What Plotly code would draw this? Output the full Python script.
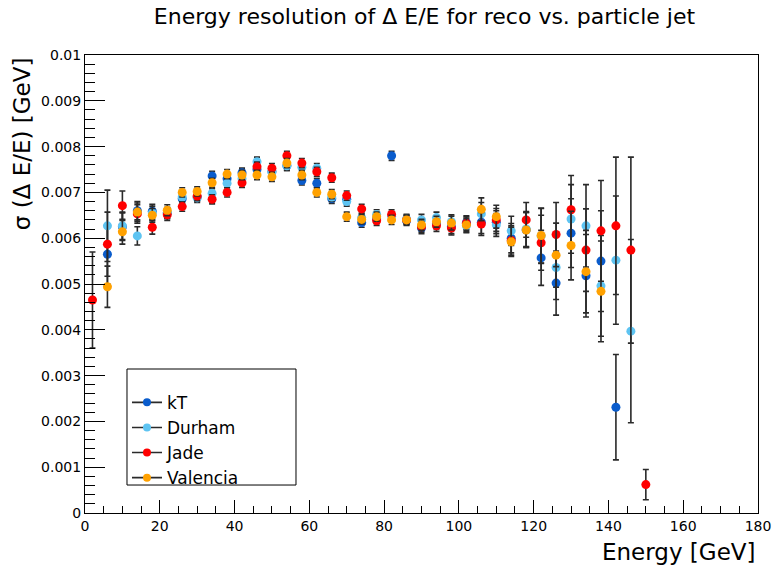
import plotly.graph_objects as go

# Bin centres (GeV) and sigma(dE/E) per jet algorithm, in units of 1e-3 GeV
energy_kt = [6, 10, 14, 18, 22, 26, 30, 34, 38, 42, 46, 50, 54, 58, 62, 66, 70, 74,
             78, 82, 86, 90, 94, 98, 102, 106, 110, 114, 118, 122, 126, 130, 134, 138, 142]
sigma_kt = [5.65, 6.25, 6.60, 6.59, 6.55, 6.86, 6.90, 7.36, 7.30, 7.43, 7.50, 7.45, 7.58,
            7.26, 7.20, 6.86, 6.85, 6.34, 6.42, 7.80, 6.38, 6.22, 6.32, 6.25, 6.34, 6.35,
            6.35, 6.00, 6.18, 5.57, 5.02, 6.11, 5.18, 5.50, 2.31]
err_kt = [0.65, 0.30, 0.20, 0.15, 0.12, 0.10, 0.10, 0.10, 0.10, 0.10, 0.10, 0.10, 0.10,
          0.10, 0.10, 0.10, 0.10, 0.10, 0.10, 0.10, 0.10, 0.12, 0.12, 0.15, 0.15, 0.25,
          0.25, 0.32, 0.38, 0.60, 0.70, 0.75, 0.90, 1.10, 1.15]

energy_durham = [6, 10, 14, 18, 22, 26, 30, 34, 38, 42, 46, 50, 54, 58, 62, 66, 70, 74,
                 78, 82, 86, 90, 94, 98, 102, 106, 110, 114, 118, 122, 126, 130, 134, 138,
                 142, 146]
sigma_durham = [6.27, 6.27, 6.05, 6.55, 6.55, 6.90, 6.88, 6.98, 7.20, 7.30, 7.67, 7.45,
                7.58, 7.55, 7.53, 6.90, 6.80, 6.45, 6.52, 6.48, 6.42, 6.40, 6.45, 6.36,
                6.27, 6.53, 6.29, 6.16, 6.20, 6.05, 5.36, 6.42, 6.27, 4.96, 5.52, 3.97]
err_durham = [0.78, 0.30, 0.20, 0.15, 0.12, 0.10, 0.10, 0.10, 0.10, 0.10, 0.10, 0.10, 0.10,
              0.10, 0.10, 0.10, 0.10, 0.10, 0.10, 0.10, 0.10, 0.12, 0.12, 0.15, 0.15, 0.25,
              0.25, 0.32, 0.38, 0.60, 0.70, 0.75, 0.90, 1.10, 1.40, 2.00]

energy_jade = [2, 6, 10, 14, 18, 22, 26, 30, 34, 38, 42, 46, 50, 54, 58, 62, 66, 70, 74,
               78, 82, 86, 90, 94, 98, 102, 106, 110, 114, 118, 122, 126, 130, 134, 138,
               142, 146, 150]
sigma_jade = [4.65, 5.87, 6.71, 6.53, 6.24, 6.51, 6.69, 6.92, 6.85, 7.00, 7.21, 7.56, 7.53,
              7.80, 7.64, 7.45, 7.32, 6.93, 6.64, 6.38, 6.52, 6.40, 6.25, 6.27, 6.22, 6.32,
              6.31, 6.40, 5.95, 6.40, 5.90, 6.08, 6.62, 5.74, 6.16, 6.27, 5.74, 0.62]
err_jade = [1.05, 0.70, 0.32, 0.20, 0.15, 0.12, 0.10, 0.10, 0.10, 0.10, 0.10, 0.10, 0.10,
            0.10, 0.10, 0.10, 0.10, 0.10, 0.10, 0.10, 0.10, 0.10, 0.12, 0.12, 0.15, 0.15,
            0.25, 0.25, 0.32, 0.38, 0.60, 0.70, 0.75, 0.90, 1.10, 1.50, 2.03, 0.33]

energy_valencia = [6, 10, 14, 18, 22, 26, 30, 34, 38, 42, 46, 50, 54, 58, 62, 66, 70, 74,
                   78, 82, 86, 90, 94, 98, 102, 106, 110, 114, 118, 122, 126, 130, 134, 138]
sigma_valencia = [4.94, 6.14, 6.57, 6.50, 6.61, 7.00, 7.02, 7.21, 7.40, 7.38, 7.38, 7.34,
                  7.64, 7.38, 7.00, 6.96, 6.47, 6.41, 6.47, 6.40, 6.40, 6.29, 6.36, 6.33,
                  6.29, 6.63, 6.47, 5.92, 6.18, 6.06, 5.63, 5.84, 5.27, 4.84]
err_valencia = [0.45, 0.27, 0.20, 0.15, 0.12, 0.10, 0.10, 0.10, 0.10, 0.10, 0.10, 0.10,
                0.10, 0.10, 0.10, 0.10, 0.10, 0.10, 0.10, 0.10, 0.10, 0.12, 0.12, 0.15,
                0.15, 0.25, 0.25, 0.32, 0.38, 0.60, 0.70, 0.75, 0.90, 1.10]

names = ["kT", "Durham", "Jade", "Valencia"]
colors = ["#0a5ccc", "#5ec4f2", "#ff0000", "#ffa100"]

x_tick_vals = [0, 20, 40, 60, 80, 100, 120, 140, 160, 180]
x_tick_text = ["0", "20", "40", "60", "80", "100", "120", "140", "160", "180"]
y_tick_vals = [0, 0.001, 0.002, 0.003, 0.004, 0.005, 0.006, 0.007, 0.008, 0.009, 0.01]
y_tick_text = ["0", "0.001", "0.002", "0.003", "0.004", "0.005", "0.006", "0.007",
               "0.008", "0.009", "0.01"]

FONT = "DejaVu Sans"
series = [
    (energy_kt, sigma_kt, err_kt),
    (energy_durham, sigma_durham, err_durham),
    (energy_jade, sigma_jade, err_jade),
    (energy_valencia, sigma_valencia, err_valencia),
]

fig = go.Figure()
for (ex, sy, se), name, col in zip(series, names, colors):
    fig.add_trace(go.Scatter(
        x=ex, y=[v * 1e-3 for v in sy], mode="markers", name=name, showlegend=False,
        marker=dict(color=col, size=9, line=dict(width=0)),
        error_y=dict(type="data", array=[v * 1e-3 for v in se], color="#2a2a2a",
                     thickness=1.6, width=3),
    ))

# legend entries drawn as a marker on a horizontal stroke
for name, col in zip(names, colors):
    fig.add_trace(go.Scatter(
        x=[None], y=[None], mode="lines+markers", name=name,
        line=dict(color="#2a2a2a", width=1.6),
        marker=dict(color=col, size=8),
    ))

# legend frame (wider than the entries, as in a TLegend box)
fig.add_shape(type="rect", xref="paper", yref="paper",
              x0=0.0624, x1=0.3135, y0=0.0611, y1=0.3144,
              line=dict(color="black", width=1), fillcolor="white", layer="above")

fig.update_layout(
    width=776, height=572,
    margin=dict(l=85, r=18, t=55, b=59, autoexpand=False),
    paper_bgcolor="white", plot_bgcolor="white",
    font=dict(family=FONT, color="black", size=14),
    title=dict(text="Energy resolution of Δ E/E for reco vs. particle jet",
               x=0.547, xanchor="center", y=0.972, yanchor="middle",
               yref="container", font=dict(size=22, family=FONT)),
    legend=dict(x=0.0624, y=0.314, xanchor="left", yanchor="top",
                borderwidth=0, bgcolor="rgba(0,0,0,0)",
                font=dict(size=17, family=FONT),
                title=dict(text=" ", font=dict(size=12)),
                tracegroupgap=0, itemwidth=30),
    showlegend=True,
)

fig.update_xaxes(
    range=[0, 180], showgrid=False, zeroline=False,
    showline=True, linecolor="black", linewidth=1, mirror=True,
    tickmode="array", tickvals=x_tick_vals, ticktext=x_tick_text,
    ticks="inside", ticklen=13, tickcolor="black", tickwidth=1,
    minor=dict(tickmode="linear", tick0=0, dtick=5, ticks="inside", ticklen=7,
               tickcolor="black", tickwidth=1, showgrid=False),
    tickfont=dict(size=14, family=FONT),
)
fig.update_yaxes(
    range=[0, 0.01], showgrid=False, zeroline=False,
    showline=True, linecolor="black", linewidth=1, mirror=True,
    tickmode="array", tickvals=y_tick_vals, ticktext=y_tick_text,
    ticks="inside", ticklen=20, tickcolor="black", tickwidth=1,
    minor=dict(tickmode="linear", tick0=0, dtick=0.0002, ticks="inside", ticklen=10,
               tickcolor="black", tickwidth=1, showgrid=False),
    tickfont=dict(size=14, family=FONT),
)

fig.add_annotation(text="Energy [GeV]", xref="paper", yref="paper", x=1.0, y=-0.085,
                   xanchor="right", yanchor="middle", showarrow=False,
                   font=dict(size=23, family=FONT))
fig.add_annotation(text="σ (Δ E/E) [GeV]", xref="paper", yref="paper", x=-0.094, y=1.0,
                   xanchor="center", yanchor="top", textangle=-90, showarrow=False,
                   font=dict(size=23, family=FONT))

fig.write_html("out.html")
